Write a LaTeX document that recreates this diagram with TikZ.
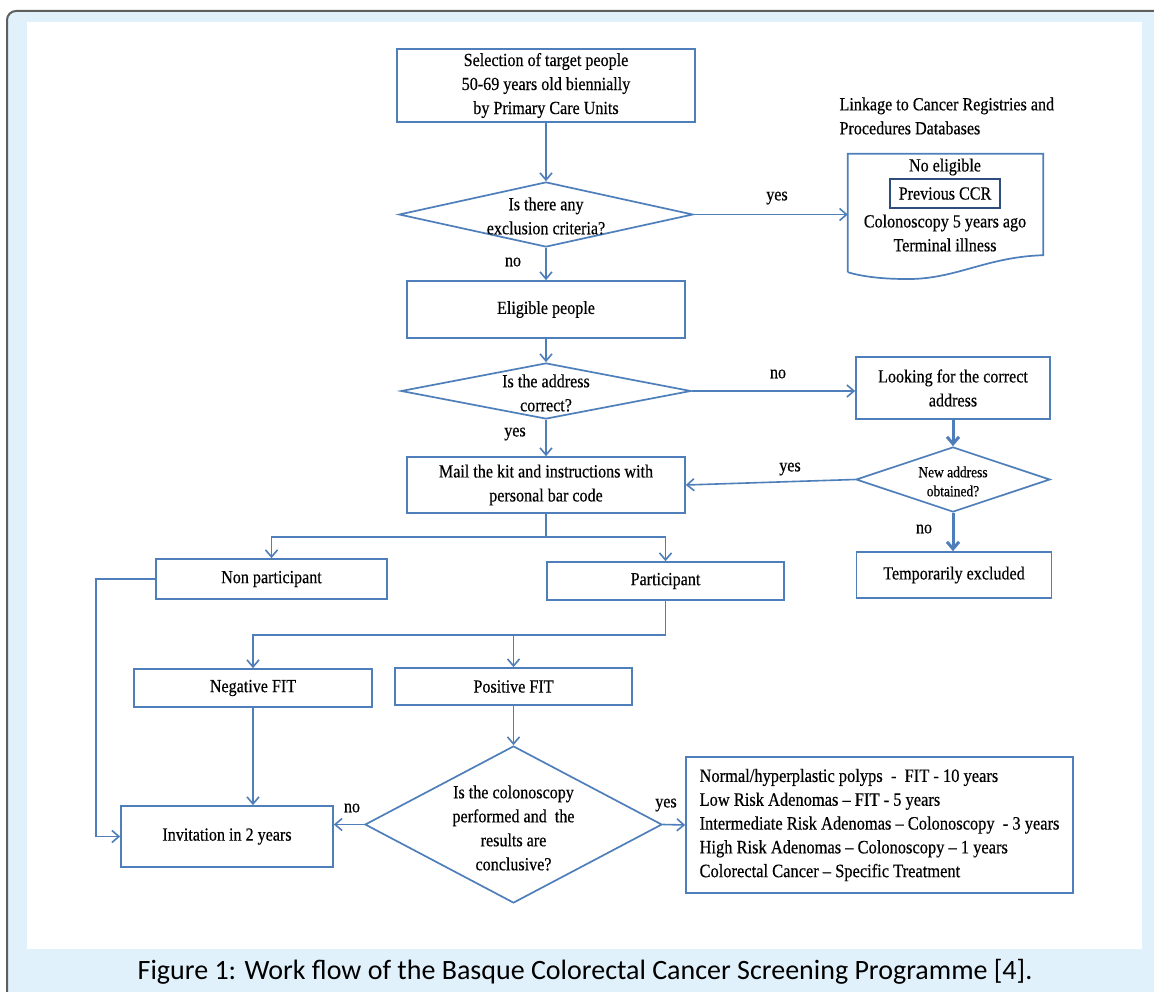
\documentclass[tikz,border=0pt]{standalone}
\usepackage{fontspec}
\setmainfont{Liberation Serif}[FakeStretch=0.87,FakeBold=0.4]
\newfontfamily\capfont{Carlito}
\usetikzlibrary{shapes.geometric,arrows.meta}
\definecolor{flowblue}{HTML}{4F7FBA}
\definecolor{panelblue}{HTML}{E1F1FB}
\definecolor{framegray}{HTML}{5E5E5E}
\definecolor{ccrnavy}{HTML}{2F4C7E}
\begin{document}
\begin{tikzpicture}[x=1pt,y=-1pt,
		font=\fontsize{18.5pt}{24pt}\selectfont,
		procbox/.style={rectangle,draw=flowblue,line width=1.7pt,align=center,inner sep=0pt},
		decision/.style={diamond,draw=flowblue,line width=1.7pt,inner sep=0pt},
		flow/.style={draw=flowblue,line width=1.6pt,-{Straight Barb[length=7pt,width=12pt]}},
		thickflow/.style={flow,line width=3pt},
		branch/.style={draw=flowblue,line width=1.6pt}
		]
	\useasboundingbox (0,0) rectangle (1154,992);
	\clip (0,0) rectangle (1154,992);
	\draw[fill=panelblue,draw=framegray,line width=2pt,rounded corners=9pt] (7,11) rectangle (1180,1020);
	\fill[white] (27,22) rectangle (1142,949);

	\node[procbox,minimum width=298pt,minimum height=73pt](Sel) at (546,85.5){Selection of target people\\50-69 years old biennially\\by Primary Care Units};
	\node[decision,minimum width=294pt,minimum height=65pt](D1) at (546,214.5){};
	\node[align=center](D1t) at (546,216){Is there any\\exclusion criteria?};

	\node[anchor=west,align=left](Link) at (836,116){Linkage to Cancer Registries and\\Procedures Databases};
	\node[minimum width=195pt,minimum height=118pt,inner sep=0pt](Doc) at (945.5,213){};
	\draw[draw=flowblue,line width=1.7pt] (Doc.south west) -- (Doc.north west) -- (Doc.north east) -- ([yshift=17pt]Doc.south east)
		.. controls (985,257) and (955,280) .. (905,279) .. controls (880,279) and (860,276) .. (Doc.south west);
	\node(NoEl) at (945,167){No eligible};
	\node[draw=ccrnavy,line width=2.8pt,minimum width=110pt,minimum height=29pt,inner sep=0pt](CCR) at (945,193.5){Previous CCR};
	\node(Colo) at (945,223){Colonoscopy 5 years ago};
	\node(Term) at (945,245){Terminal illness};

	\node[procbox,minimum width=278pt,minimum height=57pt](Elig) at (546,309.5){Eligible people};
	\node[decision,minimum width=290pt,minimum height=56pt](D2) at (546,391){};
	\node[align=center](D2t) at (546,393){Is the address\\correct?};
	\node[procbox,minimum width=194pt,minimum height=62pt](Look) at (953,388){Looking for the correct\\address};
	\node[decision,minimum width=194pt,minimum height=65pt](D3) at (953,479.5){};
	\node[align=center,font=\fontsize{15.5pt}{19pt}\selectfont](D3t) at (953,481.5){New address\\obtained?};
	\node[procbox,minimum width=195pt,minimum height=46pt](Temp) at (954,575){Temporarily excluded};
	\node[procbox,minimum width=278pt,minimum height=56pt](Mail) at (546,485){Mail the kit and instructions with\\personal bar code};

	\node[procbox,minimum width=231pt,minimum height=40pt](NonP) at (271.5,579){Non participant};
	\node[procbox,minimum width=237pt,minimum height=38pt](Part) at (665.5,581){Participant};
	\node[procbox,minimum width=238pt,minimum height=38pt](Neg) at (253,688){Negative FIT};
	\node[procbox,minimum width=237pt,minimum height=37pt](Pos) at (513.5,686.5){Positive FIT};
	\node[decision,minimum width=297pt,minimum height=157pt](D4) at (513.5,824.5){};
	\node[align=center](D4t) at (513.5,828){Is the colonoscopy\\performed and \ the\\results are\\conclusive?};
	\node[procbox,minimum width=212pt,minimum height=61pt](Inv) at (227,836.5){Invitation in 2 years};
	\node[procbox,minimum width=387pt,minimum height=136pt,align=left,font=\fontsize{18.9pt}{23.8pt}\selectfont](Res) at (879.5,825){Normal/hyperplastic polyps \ - \ FIT - 10 years\\Low Risk Adenomas -- FIT - 5 years\\Intermediate Risk Adenomas -- Colonoscopy \ - 3 years\\High Risk Adenomas -- Colonoscopy -- 1 years\\Colorectal Cancer -- Specific Treatment};

	\draw[flow] (Sel.south) -- (D1.north);
	\draw[flow] (D1.east) -- (D1.east -| Doc.west);
	\draw[flow] (D1.south) -- (Elig.north);
	\draw[flow] (Elig.south) -- (D2.north);
	\draw[flow] (D2.east) -- (D2.east -| Look.west);
	\draw[flow] (D2.south) -- (Mail.north);
	\draw[thickflow] (Look.south) -- (D3.north);
	\draw[flow] (D3.west) -- (Mail.east);
	\draw[thickflow] (D3.south) -- (D3.south |- Temp.north);
	\draw[branch] (Mail.south) -- ++(0,23) coordinate (MailJ);
	\draw[flow] (MailJ) -| (NonP.north);
	\draw[flow] (MailJ) -| (Part.north);
	\draw[branch] (Part.south) -- ++(0,34) coordinate (PartJ);
	\draw[flow] (PartJ) -| (Neg.north);
	\draw[flow] (PartJ) -| (Pos.north);
	\draw[flow] (NonP.west) -- ++(-59,0) |- (Inv.west);
	\draw[flow] (Neg.south) -- (Neg.south |- Inv.north);
	\draw[flow] (Pos.south) -- (D4.north);
	\draw[flow] (D4.west) -- (D4.west -| Inv.east);
	\draw[flow] (D4.east) -- (Res.west);

	\node(LYes1) at (777,198){yes};
	\node(LNo1) at (513,262){no};
	\node(LNo2) at (778,374){no};
	\node(LYes2) at (515,434){yes};
	\node(LYes3) at (790,469){yes};
	\node(LNo3) at (924,529){no};
	\node(LNo4) at (352,808){no};
	\node(LYes4) at (666,805){yes};

	\node[font=\capfont\fontsize{28pt}{32pt}\selectfont](Cap) at (585,972){Figure 1: Work flow of the Basque Colorectal Cancer Screening Programme [4].};
\end{tikzpicture}
\end{document}
